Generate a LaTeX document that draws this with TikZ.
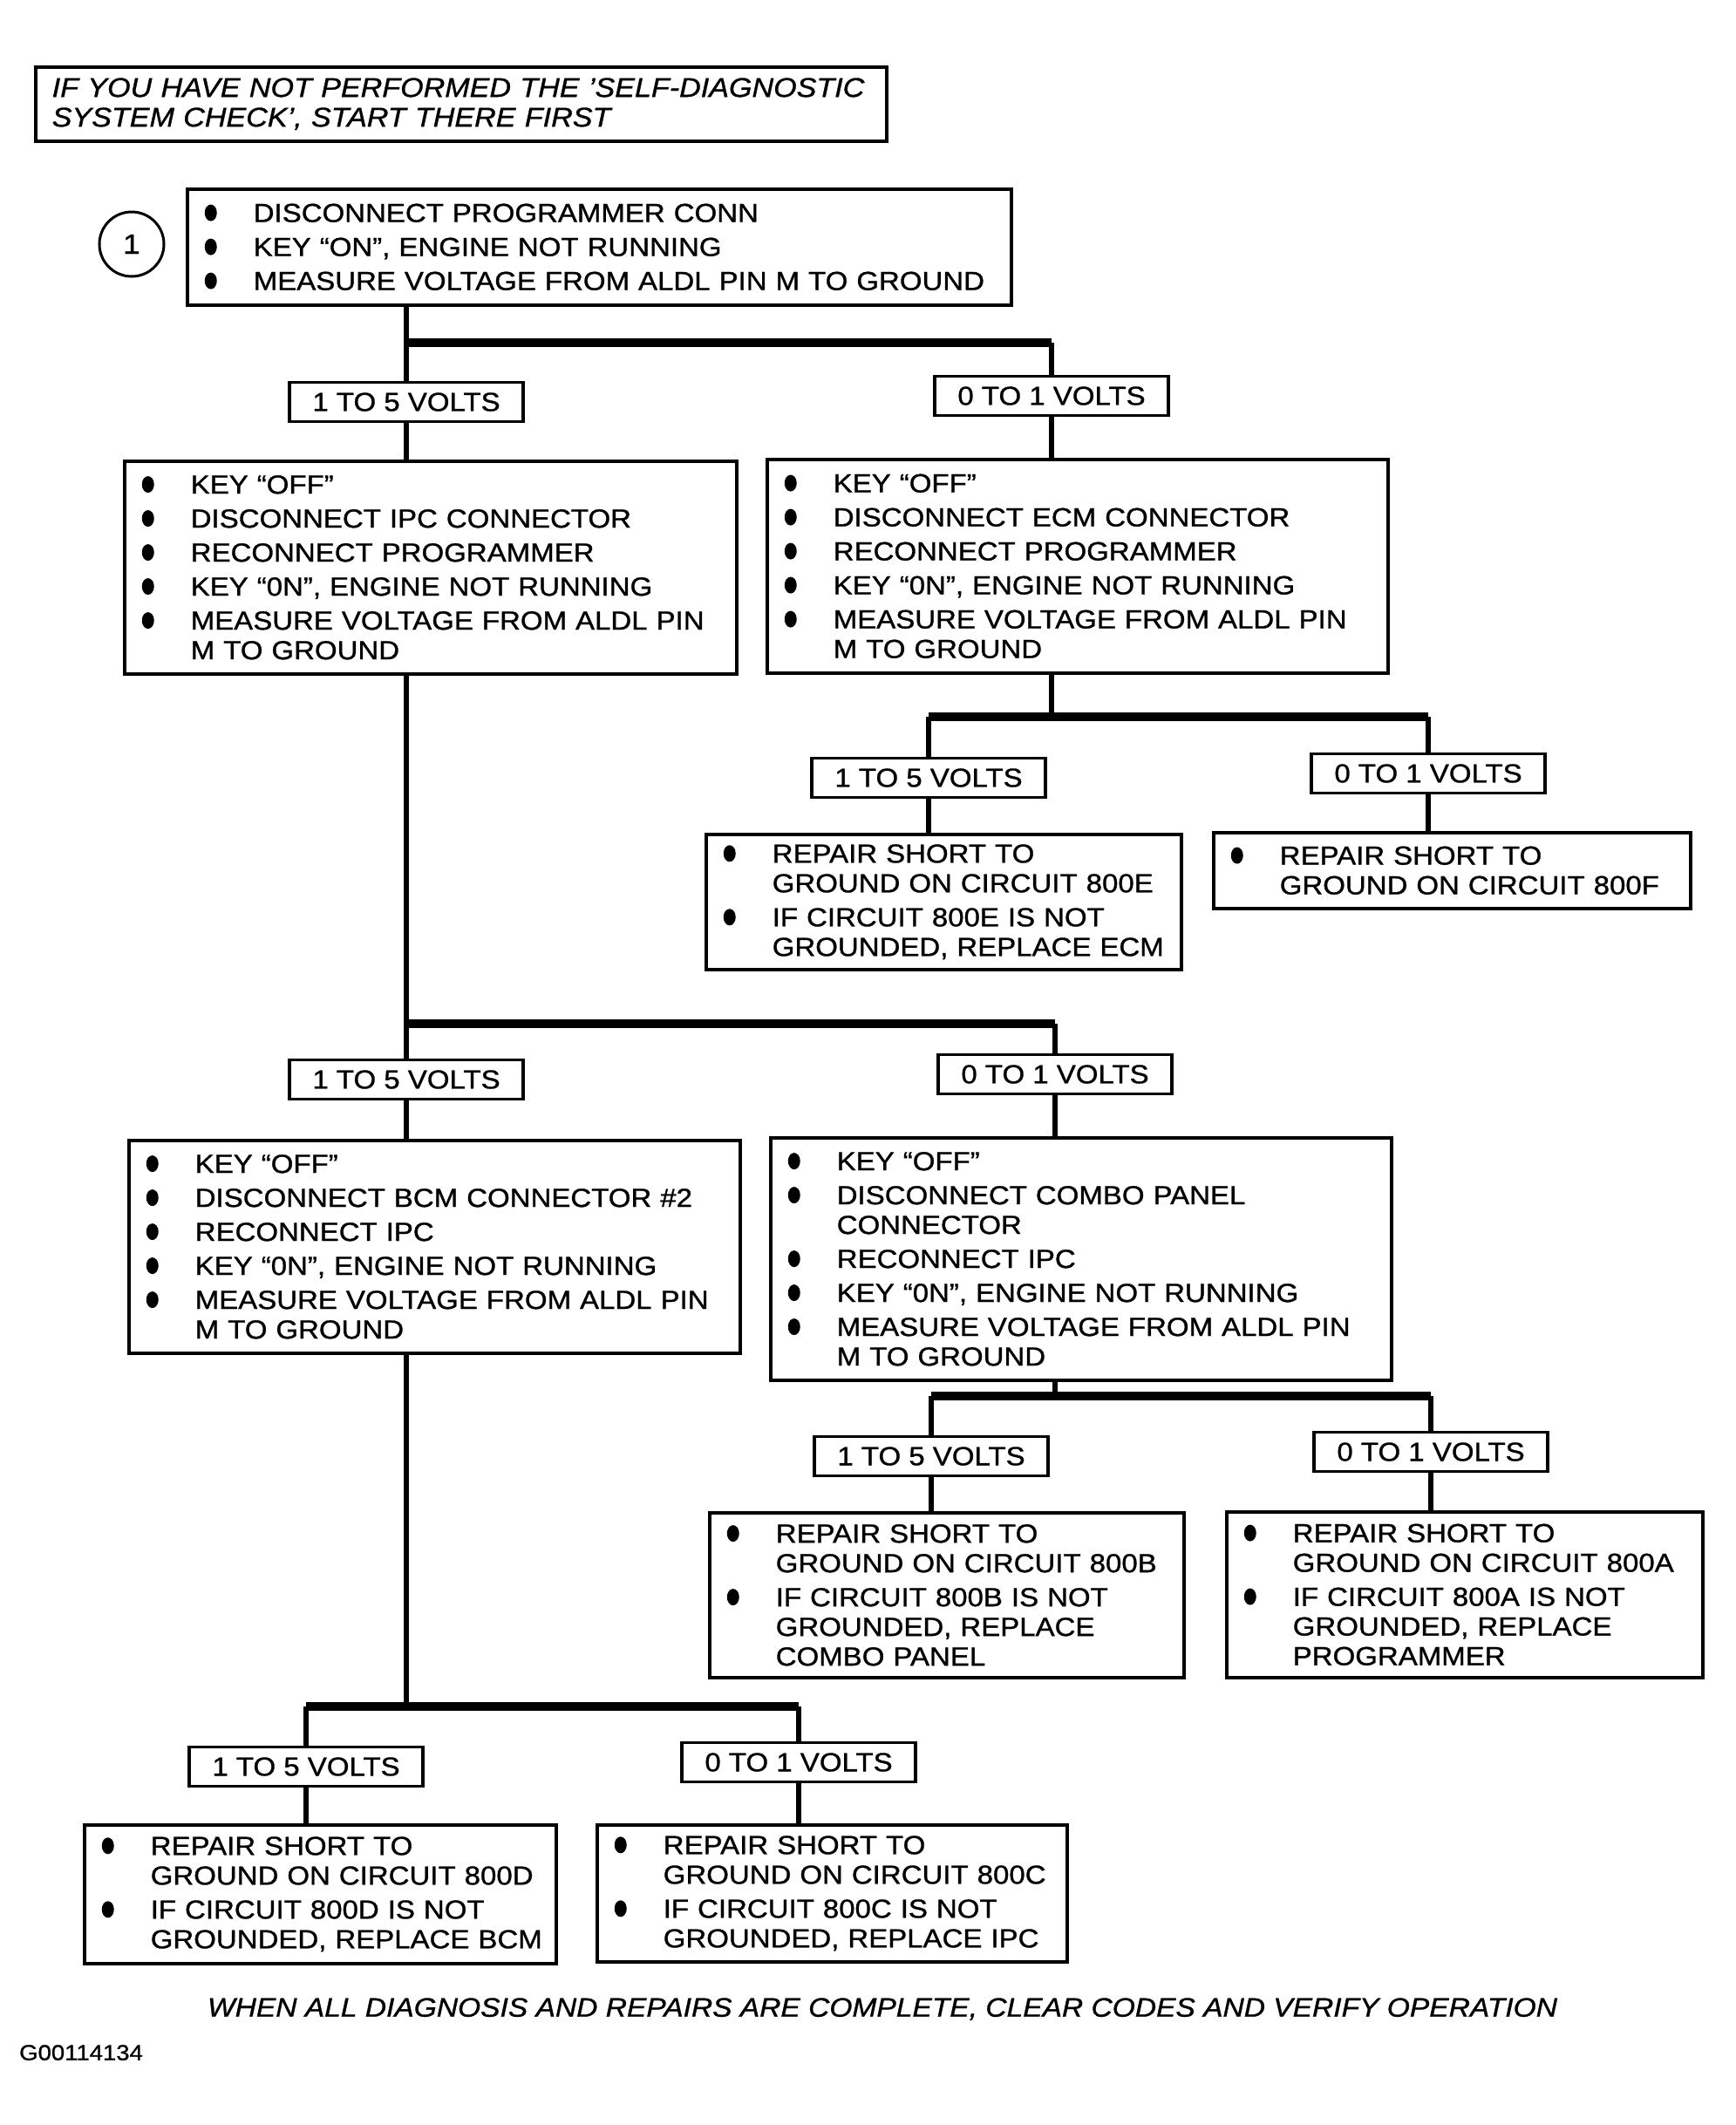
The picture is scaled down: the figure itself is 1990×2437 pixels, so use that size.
\documentclass[tikz,border=0pt]{standalone}
\usepackage{fontspec}
\setmainfont{Liberation Sans}[FakeStretch=1.1,FakeBold=1]
\newcommand\bodyfont{\fontsize{30}{34}\selectfont}
\newcommand\bulletmark{\tikz[baseline=0pt]\fill (0pt,10.5pt) ellipse [x radius=7pt, y radius=9.5pt];}
\newcommand\bitem[1]{\mbox{\hspace*{1pt}\makebox[56pt][l]{\bulletmark}#1}}
\newcommand\citem[1]{\mbox{\hspace*{57pt}#1}}
\begin{document}
\begin{tikzpicture}[x=1pt,y=-1pt,
  box/.style={draw, line width=3.5, anchor=north west, inner xsep=19pt, inner ysep=0pt, align=left, font=\bodyfont},
  lab/.style={draw, line width=3.5, minimum width=268pt, minimum height=45pt, inner sep=0pt, font=\bodyfont},
  vline/.style={line width=5.5},
  bar/.style={line width=10}]
\fill[white] (0,0) rectangle (1990,2437);
\useasboundingbox (0,0) rectangle (1990,2437);

% top note
\node[draw, line width=3.5, anchor=north west, minimum width=976pt, minimum height=85pt, inner xsep=19pt, inner ysep=0pt, text width=938pt, align=left, font=\fontsize{31}{34}\selectfont\itshape] (note) at (39,75)
  {IF YOU HAVE NOT PERFORMED THE 'SELF-DIAGNOSTIC\\SYSTEM CHECK', START THERE FIRST};

% step 1
\node[draw, circle, line width=3, minimum size=74pt, inner sep=0pt, font=\fontsize{32}{34}\selectfont] (c1) at (151,280) {1};
\node[box, text width=907pt, minimum height=133pt] (b1) at (213,215)
  {\bitem{DISCONNECT PROGRAMMER CONN}\\[5pt]
   \bitem{KEY “ON”, ENGINE NOT RUNNING}\\[5pt]
   \bitem{MEASURE VOLTAGE FROM ALDL PIN M TO GROUND}};

\coordinate (j1) at (466,393);
\node[lab] (l1a) at (466,461) {1 TO 5 VOLTS};
\node[lab] (l1b) at (1206,454) {0 TO 1 VOLTS};

\node[box, text width=664pt, minimum height=244pt] (b2l) at (141,527)
  {\bitem{KEY “OFF”}\\[5pt]
   \bitem{DISCONNECT IPC CONNECTOR}\\[5pt]
   \bitem{RECONNECT PROGRAMMER}\\[5pt]
   \bitem{KEY “0N”, ENGINE NOT RUNNING}\\[5pt]
   \bitem{MEASURE VOLTAGE FROM ALDL PIN}\\
   \citem{M TO GROUND}};
\node[box, text width=674pt, minimum height=245pt] (b2r) at (878,525)
  {\bitem{KEY “OFF”}\\[5pt]
   \bitem{DISCONNECT ECM CONNECTOR}\\[5pt]
   \bitem{RECONNECT PROGRAMMER}\\[5pt]
   \bitem{KEY “0N”, ENGINE NOT RUNNING}\\[5pt]
   \bitem{MEASURE VOLTAGE FROM ALDL PIN}\\
   \citem{M TO GROUND}};

% ECM branch
\coordinate (j3) at (1206,822);
\node[lab] (l3a) at (1065,892) {1 TO 5 VOLTS};
\node[lab] (l3b) at (1638,887) {0 TO 1 VOLTS};
\node[box, text width=507pt, minimum height=155pt] (b3a) at (808,955)
  {\bitem{REPAIR SHORT TO}\\
   \citem{GROUND ON CIRCUIT 800E}\\[5pt]
   \bitem{IF CIRCUIT 800E IS NOT}\\
   \citem{GROUNDED, REPLACE ECM}};
\node[box, text width=509pt, minimum height=87pt] (b3b) at (1390,953)
  {\bitem{REPAIR SHORT TO}\\
   \citem{GROUND ON CIRCUIT 800F}};

% IPC branch
\coordinate (j2) at (466,1174);
\node[lab] (l2a) at (466,1238) {1 TO 5 VOLTS};
\node[lab] (l2b) at (1210,1232) {0 TO 1 VOLTS};
\node[box, text width=663pt, minimum height=244pt] (b4l) at (146,1306)
  {\bitem{KEY “OFF”}\\[5pt]
   \bitem{DISCONNECT BCM CONNECTOR \#2}\\[5pt]
   \bitem{RECONNECT IPC}\\[5pt]
   \bitem{KEY “0N”, ENGINE NOT RUNNING}\\[5pt]
   \bitem{MEASURE VOLTAGE FROM ALDL PIN}\\
   \citem{M TO GROUND}};
\node[box, text width=674pt, minimum height=278pt] (b4r) at (882,1303)
  {\bitem{KEY “OFF”}\\[5pt]
   \bitem{DISCONNECT COMBO PANEL}\\
   \citem{CONNECTOR}\\[5pt]
   \bitem{RECONNECT IPC}\\[5pt]
   \bitem{KEY “0N”, ENGINE NOT RUNNING}\\[5pt]
   \bitem{MEASURE VOLTAGE FROM ALDL PIN}\\
   \citem{M TO GROUND}};

% combo panel branch
\coordinate (j5) at (1210,1601);
\node[lab] (l5a) at (1068,1670) {1 TO 5 VOLTS};
\node[lab] (l5b) at (1641,1665) {0 TO 1 VOLTS};
\node[box, text width=506pt, minimum height=189pt] (b5a) at (812,1733)
  {\bitem{REPAIR SHORT TO}\\
   \citem{GROUND ON CIRCUIT 800B}\\[5pt]
   \bitem{IF CIRCUIT 800B IS NOT}\\
   \citem{GROUNDED, REPLACE}\\
   \citem{COMBO PANEL}};
\node[box, text width=508pt, minimum height=190pt] (b5b) at (1405,1732)
  {\bitem{REPAIR SHORT TO}\\
   \citem{GROUND ON CIRCUIT 800A}\\[5pt]
   \bitem{IF CIRCUIT 800A IS NOT}\\
   \citem{GROUNDED, REPLACE}\\
   \citem{PROGRAMMER}};

% BCM branch
\coordinate (j6) at (466,1957);
\node[lab] (l6a) at (351,2026) {1 TO 5 VOLTS};
\node[lab] (l6b) at (916,2021) {0 TO 1 VOLTS};
\node[box, text width=503pt, minimum height=159pt] (b6a) at (95,2091)
  {\bitem{REPAIR SHORT TO}\\
   \citem{GROUND ON CIRCUIT 800D}\\[5pt]
   \bitem{IF CIRCUIT 800D IS NOT}\\
   \citem{GROUNDED, REPLACE BCM}};
\node[box, text width=501pt, minimum height=157pt] (b6b) at (683,2091)
  {\bitem{REPAIR SHORT TO}\\
   \citem{GROUND ON CIRCUIT 800C}\\[5pt]
   \bitem{IF CIRCUIT 800C IS NOT}\\
   \citem{GROUNDED, REPLACE IPC}};

% footer
\node[font=\fontsize{30.5}{34}\selectfont\itshape] (foot) at (1012,2304)
  {WHEN ALL DIAGNOSIS AND REPAIRS ARE COMPLETE, CLEAR CODES AND VERIFY OPERATION};
\node[anchor=west, inner sep=0pt, font=\fontsize{25}{28}\selectfont] (code) at (22,2354) {G00114134};

% connectors
\draw[vline] (b1.south -| l1a.north) -- (l1a.north);
\draw[bar] (j1 -| l1a.north) -- (j1 -| l1b.north);
\draw[vline] (j1 -| l1b.north) -- (l1b.north);
\draw[vline] (l1a.south) -- (b2l.north -| l1a.south);
\draw[vline] (l1b.south) -- (b2r.north -| l1b.south);

\draw[vline] (b2r.south -| l1b.south) -- (j3);
\draw[bar] (j3 -| l3a.north) -- (j3 -| l3b.north);
\draw[vline] (j3 -| l3a.north) -- (l3a.north);
\draw[vline] (j3 -| l3b.north) -- (l3b.north);
\draw[vline] (l3a.south) -- (b3a.north -| l3a.south);
\draw[vline] (l3b.south) -- (b3b.north -| l3b.south);

\draw[vline] (b2l.south -| l2a.north) -- (l2a.north);
\draw[bar] (j2 -| l2a.north) -- (j2 -| l2b.north);
\draw[vline] (j2 -| l2b.north) -- (l2b.north);
\draw[vline] (l2a.south) -- (b4l.north -| l2a.south);
\draw[vline] (l2b.south) -- (b4r.north -| l2b.south);

\draw[vline] (b4r.south -| l2b.south) -- (j5);
\draw[bar] (j5 -| l5a.north) -- (j5 -| l5b.north);
\draw[vline] (j5 -| l5a.north) -- (l5a.north);
\draw[vline] (j5 -| l5b.north) -- (l5b.north);
\draw[vline] (l5a.south) -- (b5a.north -| l5a.south);
\draw[vline] (l5b.south) -- (b5b.north -| l5b.south);

\draw[vline] (b4l.south -| l2a.south) -- (j6);
\draw[bar] (j6 -| l6a.north) -- (j6 -| l6b.north);
\draw[vline] (j6 -| l6a.north) -- (l6a.north);
\draw[vline] (j6 -| l6b.north) -- (l6b.north);
\draw[vline] (l6a.south) -- (b6a.north -| l6a.south);
\draw[vline] (l6b.south) -- (b6b.north -| l6b.south);
\end{tikzpicture}
\end{document}
